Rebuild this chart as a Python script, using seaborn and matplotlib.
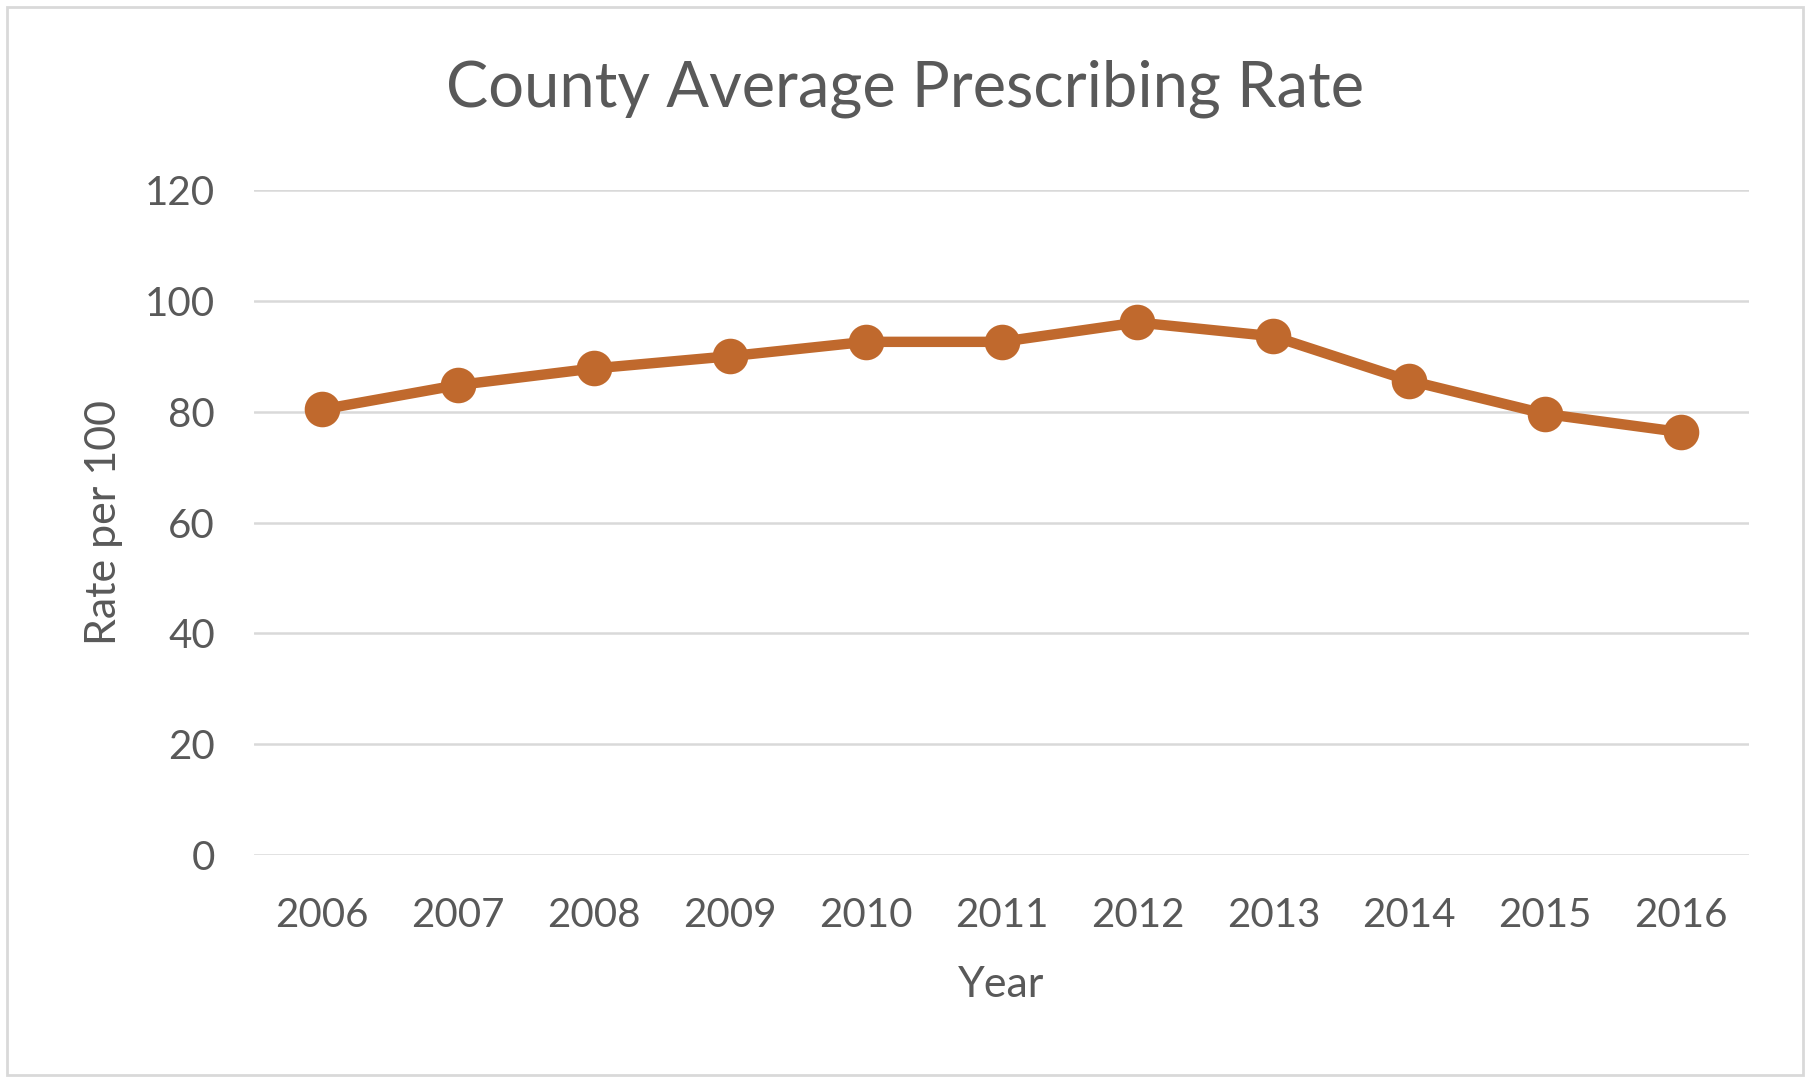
import matplotlib
matplotlib.use("Agg")
import matplotlib.pyplot as plt
import pandas as pd
import seaborn as sns
from matplotlib.patches import Rectangle

# values
years = ["2006", "2007", "2008", "2009", "2010", "2011",
         "2012", "2013", "2014", "2015", "2016"]
rate_per_100 = [80.4, 84.8, 87.8, 90.0, 92.6, 92.6,
                96.1, 93.6, 85.6, 79.6, 76.3]
y_ticks = [0, 20, 40, 60, 80, 100, 120]

LINE_COLOR = "#C0692D"
TEXT_COLOR = "#595959"
GRID_COLOR = "#D9D9D9"

sns.set_theme(style="white")
plt.rcParams["font.family"] = ["Lato", "DejaVu Sans"]

df = pd.DataFrame({"Year": years, "Rate": rate_per_100})

fig = plt.figure(figsize=(18.1, 10.83), dpi=100)
ax = fig.add_axes([254 / 1810, 1 - 855 / 1083, 1495 / 1810, 665 / 1083])

sns.pointplot(
    data=df, x="Year", y="Rate", ax=ax,
    color=LINE_COLOR, markers="o", markersize=20, linewidth=7.5,
    errorbar=None,
)

ax.set_xlim(-0.5, len(years) - 0.5)
ax.set_ylim(0, 120)
ax.set_yticks(y_ticks)
ax.yaxis.grid(True, color=GRID_COLOR, linewidth=1.8)
ax.set_axisbelow(True)
for side in ["top", "right", "left", "bottom"]:
    ax.spines[side].set_visible(False)
ax.tick_params(axis="both", length=0, labelsize=29, labelcolor=TEXT_COLOR)
ax.tick_params(axis="y", pad=28)
ax.tick_params(axis="x", pad=30)

ax.set_xlabel("Year", fontsize=31, color=TEXT_COLOR)
ax.xaxis.label.set_va("center")
ax.xaxis.set_label_coords(0.5, (855 - 985) / 665)
ax.set_ylabel("Rate per 100", fontsize=31, color=TEXT_COLOR)
ax.yaxis.label.set_va("center")
ax.yaxis.set_label_coords((104 - 254) / 1495, 0.5)

fig.text(0.5, 1 - 89 / 1083, "County Average Prescribing Rate",
         ha="center", va="center", fontsize=45.5, color=TEXT_COLOR)

# light chart-area border
fig.patches.append(Rectangle((7 / 1810, 8 / 1083), 1796 / 1810, 1068 / 1083,
                             transform=fig.transFigure, fill=False,
                             edgecolor=GRID_COLOR, linewidth=2))

fig.savefig("out.png", dpi=100, facecolor="white")
